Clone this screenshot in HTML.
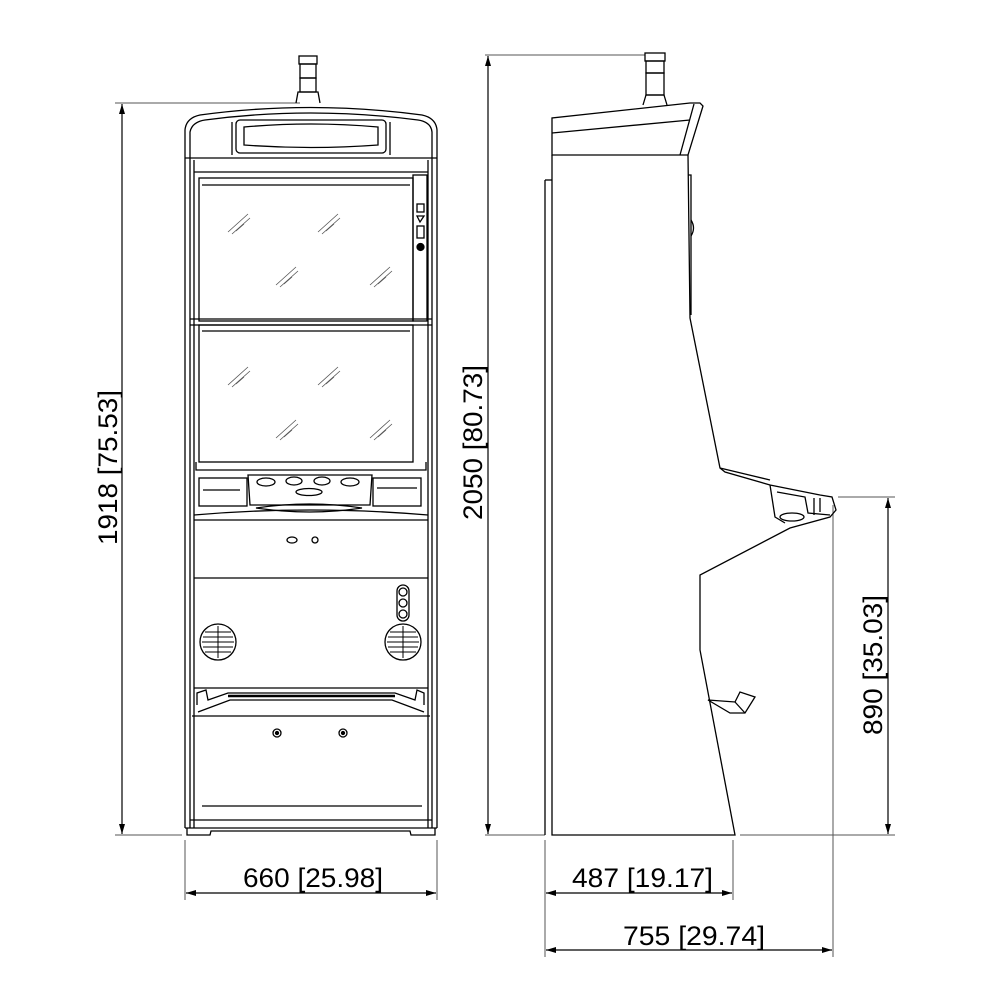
<!DOCTYPE html>
<html><head><meta charset="utf-8"><style>html,body{margin:0;padding:0;background:#fff}svg{display:block}</style></head>
<body>
<svg width="1000" height="1000" viewBox="0 0 1000 1000" xmlns="http://www.w3.org/2000/svg" font-family="Liberation Sans, sans-serif">
<defs>
<marker id="a" viewBox="0 0 10 6" refX="10" refY="3" markerWidth="12" markerHeight="6" markerUnits="userSpaceOnUse" orient="auto-start-reverse"><path d="M0 0L10 3L0 6z" fill="#000"/></marker>
</defs>
<g stroke="#555" stroke-width="1" fill="none">
<!-- extension lines -->
<line x1="115" y1="103" x2="300" y2="103"/>
<line x1="115" y1="835" x2="182" y2="835"/>
<line x1="485" y1="55" x2="645" y2="55"/>
<line x1="485" y1="835" x2="545" y2="835"/>
<line x1="740" y1="835" x2="895" y2="835"/>
<line x1="838" y1="497" x2="895" y2="497"/>
<line x1="185" y1="840" x2="185" y2="900"/>
<line x1="437" y1="840" x2="437" y2="900"/>
<line x1="545" y1="840" x2="545" y2="957"/>
<line x1="733" y1="840" x2="733" y2="900"/>
<line x1="833" y1="505" x2="833" y2="957"/>
</g>
<g stroke="#000" stroke-width="1.2" fill="none">
<line x1="122" y1="104" x2="122" y2="834" marker-start="url(#a)" marker-end="url(#a)"/>
<line x1="488" y1="56" x2="488" y2="834" marker-start="url(#a)" marker-end="url(#a)"/>
<line x1="888" y1="498" x2="888" y2="834" marker-start="url(#a)" marker-end="url(#a)"/>
<line x1="186" y1="893" x2="436" y2="893" marker-start="url(#a)" marker-end="url(#a)"/>
<line x1="546" y1="893" x2="732" y2="893" marker-start="url(#a)" marker-end="url(#a)"/>
<line x1="546" y1="950" x2="832" y2="950" marker-start="url(#a)" marker-end="url(#a)"/>
</g>
<g font-size="27" fill="#000">
<text x="243" y="887" textLength="140" lengthAdjust="spacingAndGlyphs">660 [25.98]</text>
<text x="572" y="887" textLength="141" lengthAdjust="spacingAndGlyphs">487 [19.17]</text>
<text x="623" y="945" textLength="142" lengthAdjust="spacingAndGlyphs">755 [29.74]</text>
<text transform="translate(117,545) rotate(-90)" textLength="155" lengthAdjust="spacingAndGlyphs">1918 [75.53]</text>
<text transform="translate(482,520) rotate(-90)" textLength="155" lengthAdjust="spacingAndGlyphs">2050 [80.73]</text>
<text transform="translate(882,735) rotate(-90)" textLength="140" lengthAdjust="spacingAndGlyphs">890 [35.03]</text>
</g>

<!-- FRONT VIEW -->
<g stroke="#000" stroke-width="1.3" fill="none">
<!-- pole -->
<rect x="299" y="56" width="18" height="8"/>
<rect x="300" y="64" width="16" height="14"/>
<rect x="300" y="78" width="16" height="14"/>
<path d="M296 103 L298 92 L318 92 L320 103"/>
<!-- top cap -->
<path d="M185 155 L185 130 Q186 118 200 115 Q310 100 422 115 Q436 118 437 130 L437 155"/>
<path d="M190 155 L190 132 Q192 122 205 120 Q310 106 418 120 Q431 122 432 132 L432 155"/>
<rect x="236" y="120" width="150" height="33" rx="4"/>
<path d="M244 127 Q311 121 378 127 L378 145 Q311 150 244 145 Z"/>
<line x1="232" y1="122" x2="232" y2="155"/>
<line x1="390" y1="122" x2="390" y2="155"/>
<!-- cabinet sides -->
<line x1="185" y1="155" x2="185" y2="828"/>
<line x1="437" y1="155" x2="437" y2="828"/>
<line x1="190" y1="155" x2="190" y2="828"/>
<line x1="432" y1="155" x2="432" y2="828"/>
<line x1="194" y1="160" x2="194" y2="828"/>
<line x1="428" y1="160" x2="428" y2="828"/>
<line x1="185" y1="158" x2="437" y2="158"/>
<line x1="194" y1="172" x2="428" y2="172"/>
<!-- screens -->
<rect x="199" y="178" width="214" height="143"/>
<line x1="202" y1="185" x2="410" y2="185"/>
<rect x="413" y="175" width="14" height="146"/>
<rect x="417" y="204" width="7" height="8"/>
<path d="M417 216 L424 216 L420 222 Z"/>
<rect x="417" y="226" width="7" height="12"/>
<circle cx="420.5" cy="247" r="3.5" fill="#000"/>
<line x1="190" y1="319" x2="432" y2="319"/>
<line x1="190" y1="325" x2="432" y2="325"/>
<rect x="199" y="325" width="214" height="137"/>
<line x1="202" y1="331" x2="410" y2="331"/>
<path d="M196 462 L196 470 L426 470 L426 462"/>
<!-- button deck -->
<rect x="199" y="478" width="48" height="28"/>
<line x1="203" y1="490" x2="240" y2="490"/>
<rect x="373" y="478" width="48" height="28"/>
<line x1="377" y1="488" x2="417" y2="488"/>
<path d="M248 475 L372 475 L370 505 L250 505 Z"/>
<ellipse cx="266" cy="482" rx="9" ry="4"/>
<ellipse cx="294" cy="481" rx="8" ry="4"/>
<ellipse cx="322" cy="481" rx="8" ry="4"/>
<ellipse cx="350" cy="482" rx="9" ry="4"/>
<ellipse cx="309" cy="492" rx="13" ry="3.5"/>
<path d="M256 508 Q310 500 362 508 Q310 516 256 508 Z"/>
<path d="M194 515 Q310 505 428 515"/>
<line x1="194" y1="520" x2="428" y2="520"/>
<!-- doors -->
<line x1="194" y1="578" x2="428" y2="578"/>
<ellipse cx="292" cy="540" rx="5" ry="3"/>
<circle cx="315" cy="540" r="3"/>
<rect x="397" y="585" width="12" height="36" rx="6"/>
<circle cx="403" cy="592" r="4"/>
<circle cx="403" cy="603" r="4"/>
<circle cx="403" cy="614" r="4"/>
<circle cx="218" cy="642" r="18"/>
<circle cx="403" cy="642" r="18"/>
<g stroke-width="1">
<path d="M205 632 H231 M203 637 H233 M202 642 H234 M203 647 H233 M205 652 H231 M218 626 V658"/>
<path d="M390 632 H416 M388 637 H418 M387 642 H419 M388 647 H418 M390 652 H416 M403 626 V658"/>
</g>
<line x1="194" y1="688" x2="428" y2="688"/>
<path d="M197 705 L197 693 L206 690 L208 700 L228 693 L395 693 L415 700 L417 690 L424 693 L424 705"/>
<path d="M228 696 L395 696" stroke-width="2.5"/>
<path d="M198 712 L230 700 L392 700 L424 712"/>
<line x1="192" y1="716" x2="430" y2="716"/>
<circle cx="277" cy="733" r="4"/><circle cx="277" cy="733" r="1.5" fill="#000"/>
<circle cx="343" cy="733" r="4"/><circle cx="343" cy="733" r="1.5" fill="#000"/>
<line x1="202" y1="806" x2="422" y2="806"/>
<line x1="190" y1="820" x2="432" y2="820"/>
<path d="M185 828 L437 828"/>
<path d="M187 828 L187 835 L210 835 L211 831 L410 831 L411 835 L435 835 L435 828"/>
</g>
<!-- glass hatch -->
<g stroke="#555" stroke-width="0.8">
<path d="M228 232 L248 214 M232 234 L250 218 M236 231 L244 224"/>
<path d="M318 232 L338 214 M322 234 L340 218 M326 231 L334 224"/>
<path d="M276 285 L296 267 M280 287 L298 271 M284 284 L292 277"/>
<path d="M370 285 L390 267 M374 287 L392 271 M378 284 L386 277"/>
<path d="M228 385 L248 367 M232 387 L250 371 M236 384 L244 377"/>
<path d="M318 385 L338 367 M322 387 L340 371 M326 384 L334 377"/>
<path d="M276 438 L296 420 M280 440 L298 424 M284 437 L292 430"/>
<path d="M370 438 L390 420 M374 440 L392 424 M378 437 L386 430"/>
</g>

<!-- SIDE VIEW -->
<g stroke="#000" stroke-width="1.3" fill="none">
<rect x="645" y="53" width="20" height="8"/>
<rect x="646" y="61" width="18" height="12"/>
<rect x="646" y="73" width="18" height="22"/>
<path d="M643 105 L646 95 L664 95 L667 105"/>
<path d="M552 155 L552 118 L690 103 L700 103 L703 106 L688 155 Z"/>
<path d="M552 133 L690 120"/>
<path d="M694 104 L680 155"/>
<line x1="545" y1="180" x2="545" y2="835"/>
<line x1="545" y1="180" x2="552" y2="180"/>
<path d="M552 155 L552 835 L735 835 L700 650 L700 575 L790 528 L830 517 L836 510 L832 497 L820 495 L770 485 L725 472 L720 468 L690 318 L688 155"/>
<path d="M688 175 L691 175 L691 315"/>
<path d="M691 220 Q696 228 691 236"/>
<path d="M720 468 L745 474 L770 480"/>
<path d="M770 485 L775 517 L785 523"/>
<path d="M777 492 L805 497 L808 513 L830 515"/>
<path d="M814 498 L814 515 M820 498 L820 512"/>
<ellipse cx="792" cy="517" rx="12" ry="4"/>
<path d="M708 700 L735 702 L740 692 L755 697 L745 713 L730 713 Z"/>
<path d="M735 702 L745 713"/>
</g>
</svg>
</body></html>
